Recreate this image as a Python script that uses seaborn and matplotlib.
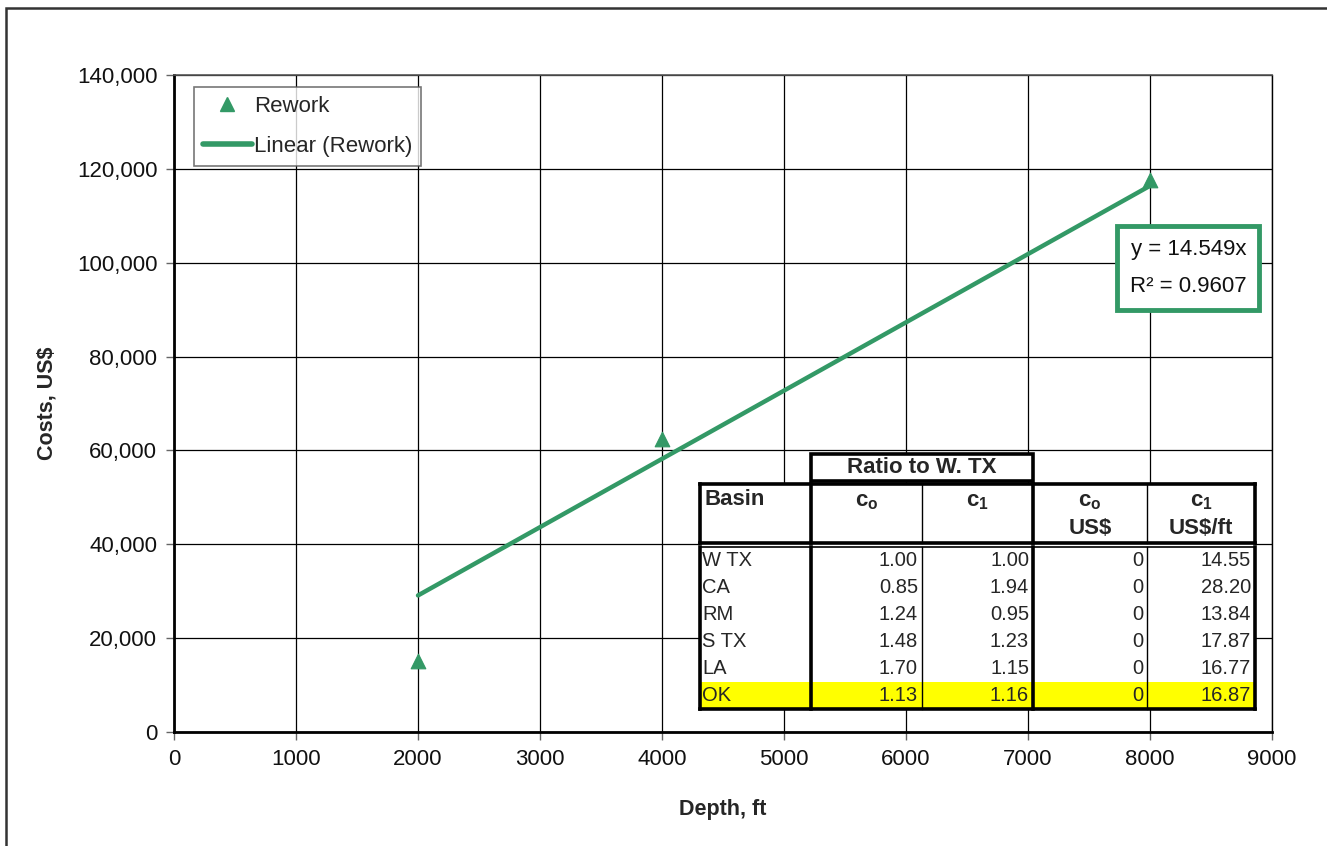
import numpy as np
import pandas as pd
import matplotlib
matplotlib.use("Agg")
import matplotlib.pyplot as plt
import seaborn as sns
from matplotlib.lines import Line2D
from matplotlib.patches import Rectangle
from matplotlib.ticker import FuncFormatter, MultipleLocator

# Rework cost data
depth_ft = [2000, 4000, 8000]
cost_usd = [15200, 62500, 117700]

# Trendline (forced through origin)
slope = 14.549
r_squared = 0.9607

# Basin table
basins = ["W TX", "CA", "RM", "S TX", "LA", "OK"]
ratio_c0 = [1.00, 0.85, 1.24, 1.48, 1.70, 1.13]
ratio_c1 = [1.00, 1.94, 0.95, 1.23, 1.15, 1.16]
cost_c0 = [0, 0, 0, 0, 0, 0]
cost_c1 = [14.55, 28.20, 13.84, 17.87, 16.77, 16.87]
highlight_row = "OK"

GREEN = "#339966"
W, H = 1327, 846

sns.set_theme(style="white")
plt.rcParams["font.family"] = ["Liberation Sans", "DejaVu Sans"]
plt.rcParams["mathtext.fontset"] = "custom"
plt.rcParams["mathtext.rm"] = "Liberation Sans"
plt.rcParams["mathtext.bf"] = "Liberation Sans:bold"

fig = plt.figure(figsize=(W / 100, H / 100), dpi=100)
fig.patch.set_facecolor("white")
ax = fig.add_axes([174 / W, 1 - 732 / H, (1272 - 174) / W, (732 - 75) / H])


def fx(x):
    return x / W


def fy(y):
    return 1 - y / H


# outer chart-area frame
fig.add_artist(Rectangle((fx(6), fy(900)), fx(1400), fy(8) - fy(900), transform=fig.transFigure,
                         fill=False, edgecolor="#333333", linewidth=1.8))

df = pd.DataFrame({"Depth": depth_ft, "Cost": cost_usd})
fit = pd.DataFrame({"Depth": [min(depth_ft), max(depth_ft)]})
fit["Cost"] = slope * fit["Depth"]

sns.lineplot(data=fit, x="Depth", y="Cost", ax=ax, color=GREEN, linewidth=3.2, zorder=3)
sns.scatterplot(data=df, x="Depth", y="Cost", ax=ax, marker="^", color=GREEN, s=110,
                edgecolor=GREEN, zorder=4)

ax.set_xlim(0, 9000)
ax.set_ylim(0, 140000)
ax.xaxis.set_major_locator(MultipleLocator(1000))
ax.yaxis.set_major_locator(MultipleLocator(20000))
ax.yaxis.set_major_formatter(FuncFormatter(lambda v, p: f"{int(v):,}"))
ax.grid(True, color="black", linewidth=0.9)
ax.set_axisbelow(True)
for s in ["left", "bottom"]:
    ax.spines[s].set_color("black")
    ax.spines[s].set_linewidth(2)
ax.spines["top"].set_color("#555555")
ax.spines["top"].set_linewidth(1.2)
ax.spines["right"].set_color("black")
ax.spines["right"].set_linewidth(1)
ax.tick_params(axis="both", which="major", direction="out", length=6, width=1,
               color="#666666", labelsize=16, labelcolor="#111111", pad=6,
               left=True, bottom=True)
ax.set_xlabel("Depth, ft", fontsize=15.5, fontweight="bold", labelpad=21)
ax.set_ylabel("Costs, US$", fontsize=15.5, fontweight="bold", labelpad=14)

handles = [
    Line2D([], [], marker="^", linestyle="none", color=GREEN, markersize=10),
    Line2D([], [], color=GREEN, linewidth=4),
]
leg = ax.legend(handles, ["Rework", "Linear (Rework)"], loc="upper left",
                bbox_to_anchor=((194 - 174) / (1272 - 174), 1 - (87 - 75) / (732 - 75)),
                fontsize=16, frameon=True, fancybox=False, handlelength=2.2,
                handletextpad=0.1, borderpad=0.4, labelspacing=0.85, borderaxespad=0)
leg.get_frame().set_edgecolor("#555555")
leg.get_frame().set_linewidth(1.2)

# trendline equation box
fig.text(fx(1188), fy(268), f"y = {slope:.3f}x\nR\u00b2 = {r_squared:.4f}", ha="center", va="center",
         fontsize=16, multialignment="right", color="#111111", linespacing=2.05,
         bbox=dict(boxstyle="square,pad=0.55", facecolor="white", edgecolor=GREEN, linewidth=3.5))

# ---- basin coefficient table ----
cols = [700, 811, 922, 1033, 1147, 1255]
head_top, head_bot, body_top, row_h = 484, 543, 547, 27
body_bot = body_top + row_h * len(basins)


def rect(x0, y0, x1, y1, **kw):
    fig.add_artist(Rectangle((fx(x0), fy(y1)), fx(x1) - fx(x0), fy(y0) - fy(y1),
                             transform=fig.transFigure, **kw))


def hline(x0, x1, y, lw):
    fig.add_artist(Line2D([fx(x0), fx(x1)], [fy(y), fy(y)], transform=fig.transFigure,
                          color="black", linewidth=lw, solid_capstyle="projecting"))


def vline(x, y0, y1, lw):
    fig.add_artist(Line2D([fx(x), fx(x)], [fy(y0), fy(y1)], transform=fig.transFigure,
                          color="black", linewidth=lw, solid_capstyle="projecting"))


rect(cols[0], head_top, cols[-1], body_bot, facecolor="white", edgecolor="none")
rect(cols[1], 454, cols[3], 481, facecolor="white", edgecolor="black", linewidth=2.6)
fig.text(fx((cols[1] + cols[3]) / 2), fy(467), "Ratio to W. TX", ha="center", va="center",
         fontsize=16, fontweight="bold")

hi = basins.index(highlight_row)
rect(cols[0], body_top + hi * row_h, cols[-1], body_top + (hi + 1) * row_h,
     facecolor="#ffff00", edgecolor="none")

# borders
hline(cols[0], cols[-1], head_top, 2.6)
hline(cols[0], cols[-1], head_bot, 2.6)
hline(cols[0], cols[-1], body_top, 1.2)
hline(cols[0], cols[-1], body_bot, 2.6)
for i, x in enumerate(cols):
    lw = 2.6 if i in (0, 1, 3, 5) else 1.0
    vline(x, head_top, head_bot, lw)
    vline(x, body_top, body_bot, lw)

# headers
fig.text(fx(cols[0] + 4), fy(499), "Basin", ha="left", va="center", fontsize=16, fontweight="bold")
heads = [(r"$\mathbf{c}_\mathbf{o}$", None), (r"$\mathbf{c}_\mathbf{1}$", None),
         (r"$\mathbf{c}_\mathbf{o}$", "US$"), (r"$\mathbf{c}_\mathbf{1}$", "US$/ft")]
for j, (top, bottom) in enumerate(heads):
    cx = (cols[j + 1] + cols[j + 2]) / 2
    fig.text(fx(cx), fy(502), top, ha="center", va="center", fontsize=16)
    if bottom:
        fig.text(fx(cx), fy(529), bottom, ha="center", va="center", fontsize=16, fontweight="bold")

# body
for i, name in enumerate(basins):
    yc = body_top + (i + 0.5) * row_h
    fig.text(fx(cols[0] + 2), fy(yc), name, ha="left", va="center", fontsize=14.5)
    vals = [f"{ratio_c0[i]:.2f}", f"{ratio_c1[i]:.2f}", f"{cost_c0[i]:d}", f"{cost_c1[i]:.2f}"]
    for j, v in enumerate(vals):
        fig.text(fx(cols[j + 2] - 4), fy(yc), v, ha="right", va="center", fontsize=14.5)

fig.savefig("out.png", dpi=100, facecolor="white")
